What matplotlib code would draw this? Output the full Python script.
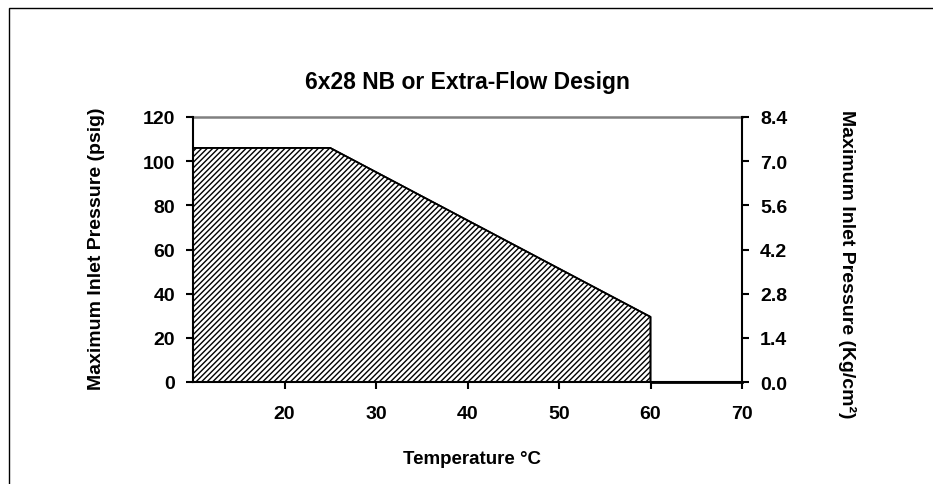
import matplotlib
matplotlib.use("Agg")
import matplotlib.pyplot as plt
from matplotlib.patches import Rectangle

plt.rcParams['font.family'] = ['Liberation Sans', 'DejaVu Sans']
plt.rcParams['font.weight'] = 'bold'
plt.rcParams['hatch.linewidth'] = 1.0
plt.rcParams['hatch.color'] = '#3a3a3a'

# Data
temp_c = [10, 25, 60]
pressure_psig = [106, 106, 29.5]
zero_line_x = [60, 70]
zero_line_y = [0, 0]
psig_ticks = [0, 20, 40, 60, 80, 100, 120]
kg_ticks = [0.0, 1.4, 2.8, 4.2, 5.6, 7.0, 8.4]
x_ticks = [20, 30, 40, 50, 60, 70]

title = "6x28 NB or Extra-Flow Design"
xlabel = "Temperature \u00b0C"
ylabel_left = "Maximum Inlet Pressure (psig)"
ylabel_right = "Maximum Inlet Pressure (Kg/cm\u00b2)"

W, H = 933, 485
fig = plt.figure(figsize=(W / 100, H / 100), dpi=100)
fig.patch.set_facecolor('white')

# figure border (only top/left visible in reference)
fig.patches.append(Rectangle((9 / W, -0.1), 1.2, 1 - 9 / H + 0.1, transform=fig.transFigure,
                             fill=False, edgecolor='black', linewidth=1.0))

ax = fig.add_axes([193 / W, 1 - 383 / H, (742 - 193) / W, (383 - 118) / H])
ax.set_xlim(10, 70)
ax.set_ylim(0, 120)

ax.fill_between(temp_c, pressure_psig, 0, facecolor='white', hatch='//////',
                edgecolor='black', linewidth=1.2, zorder=2)
ax.plot(temp_c + [temp_c[-1]], pressure_psig + [0], color='black', linewidth=1.2, zorder=3)
ax.plot(zero_line_x, zero_line_y, color='black', linewidth=2, zorder=3, clip_on=False)
ax.axhline(120, color='#808080', linewidth=1.8, zorder=1, clip_on=False)

ax.set_xticks(x_ticks)
ax.set_yticks(psig_ticks)
for lab in ax.get_xticklabels() + ax.get_yticklabels():
    lab.set_fontweight('bold')
ax.tick_params(axis='x', direction='out', length=5, width=1.5, pad=11.5, labelsize=14)
ax.tick_params(axis='y', direction='out', length=5, width=1.5, pad=8, labelsize=14)
for s in ['top', 'right']:
    ax.spines[s].set_visible(False)
for s in ['left', 'bottom']:
    ax.spines[s].set_linewidth(1.5)
    ax.spines[s].set_color('black')

ax2 = ax.twinx()
ax2.set_ylim(0, 8.4)
ax2.set_yticks(kg_ticks)
ax2.set_yticklabels([f"{v:.1f}" for v in kg_ticks], fontweight='bold')
ax2.tick_params(axis='y', direction='out', length=5, width=1.5, pad=8, labelsize=14)
for s in ['top', 'left', 'bottom']:
    ax2.spines[s].set_visible(False)
ax2.spines['right'].set_linewidth(1.5)

fig.text(467 / W, 1 - 82 / H, title, ha='center', va='center', fontsize=16.5, fontweight='bold')
fig.text(472 / W, 1 - 460 / H, xlabel, ha='center', va='center', fontsize=13.5, fontweight='bold')
fig.text(97 / W, 1 - 249 / H, ylabel_left, ha='center', va='center', rotation=90,
         fontsize=14, fontweight='bold')
fig.text(847 / W, 1 - 264 / H, ylabel_right, ha='center', va='center', rotation=-90,
         fontsize=14, fontweight='bold')

fig.savefig("out.png", dpi=100)
